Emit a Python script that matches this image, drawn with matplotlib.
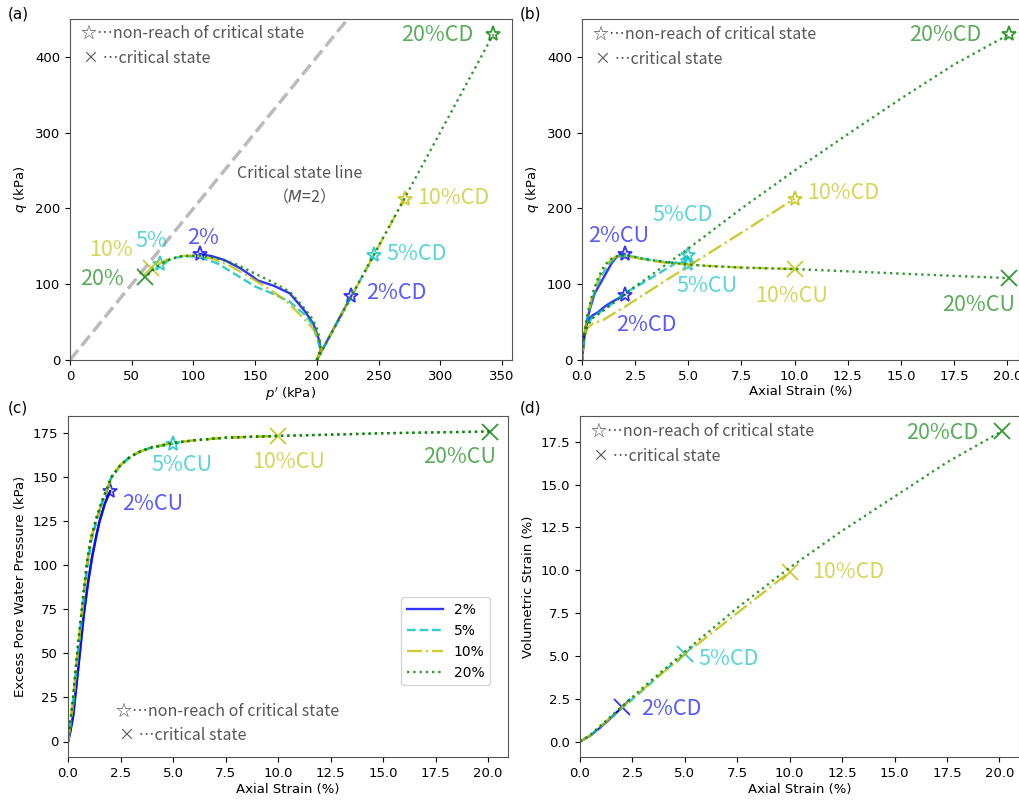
import matplotlib
matplotlib.use('Agg')
import matplotlib.pyplot as plt
from matplotlib.ticker import MultipleLocator

# ---- (a) stress path p'-q, undrained (CU) ----
p_cu2 = [200, 203, 202, 200, 197, 190, 178, 165, 152, 148, 138, 125, 115, 105]
q_cu2 = [0, 12, 25, 35, 48, 65, 88, 98, 105, 110, 121, 132, 137, 140]
p_cu5 = [200, 203, 202, 200, 197, 190, 178, 165, 150, 135, 120, 105, 95, 85, 73]
q_cu5 = [0, 10, 20, 28, 46, 60, 77, 87, 97, 112, 127, 136, 137, 135, 127]
p_cu10 = [200, 203, 202, 199, 195, 185, 175, 160, 145, 130, 115, 100, 88, 78, 66]
q_cu10 = [0, 12, 25, 36, 45, 62, 78, 95, 110, 124, 134, 138, 137, 132, 121]
p_cu20 = [200, 203, 202, 200, 196, 188, 178, 165, 150, 135, 120, 105, 90, 78, 68, 61]
q_cu20 = [0, 15, 30, 42, 55, 72, 90, 102, 114, 126, 134, 138, 137, 131, 120, 109]

# drained (CD) paths in p'-q
p_cd2 = [200, 228]
q_cd2 = [0, 85]
p_cd5 = [200, 246]
q_cd5 = [0, 138]
p_cd10 = [200, 271]
q_cd10 = [0, 213]
p_cd20 = [200, 343]
q_cd20 = [0, 430]

# ---- (b) q vs axial strain ----
ea_cu2 = [0, 0.1, 0.2, 0.4, 0.6, 0.8, 1.0, 1.2, 1.4, 1.6, 1.8, 2.0]
qa_cu2 = [0, 30, 48, 70, 88, 98, 108, 118, 128, 135, 139, 140]
ea_cu5 = [0, 0.1, 0.25, 0.5, 0.75, 1.0, 1.25, 1.5, 1.75, 2.0, 2.5, 3, 4, 5]
qa_cu5 = [0, 30, 55, 82, 100, 115, 126, 133, 137, 138, 136, 133, 129, 127]
ea_cu10 = [0, 0.1, 0.25, 0.5, 0.75, 1.0, 1.25, 1.5, 1.75, 2.0, 2.5, 3, 4, 5, 6, 7.5, 10]
qa_cu10 = [0, 32, 58, 86, 105, 119, 129, 135, 137, 137, 135, 132, 128, 126, 124, 122, 120]
ea_cu20 = [0, 0.1, 0.25, 0.5, 0.75, 1.0, 1.25, 1.5, 1.75, 2.0, 2.5, 3, 4, 5, 6, 7.5,
           10, 12.5, 15, 17.5, 20.1]
qa_cu20 = [0, 35, 60, 88, 108, 122, 131, 136, 138, 138, 136, 133, 129, 126, 124, 122,
           120, 117, 114, 111, 108]

ea_cd2 = [0, 0.1, 0.2, 0.35, 0.5, 0.75, 1.0, 1.25, 1.5, 1.75, 2.0]
qa_cd2 = [0, 30, 45, 55, 59, 63, 69, 74, 78, 82, 86]
ea_cd5 = [0, 0.1, 0.25, 0.5, 1, 1.5, 2, 3, 4, 5]
qa_cd5 = [0, 30, 47, 57, 66, 76, 88, 104, 121, 138]
ea_cd10 = [0, 0.1, 0.25, 0.5, 1, 2, 3, 5, 7.5, 10]
qa_cd10 = [0, 28, 42, 48, 53, 70, 88, 124, 168, 213]
ea_cd20 = [0, 0.1, 0.25, 0.5, 1, 2, 3, 5, 7.5, 10, 12.5, 15, 17.5, 20.1]
qa_cd20 = [0, 30, 45, 55, 65, 87, 107, 147, 200, 250, 298, 345, 390, 430]

# ---- (c) excess pore water pressure (CU) ----
eu_cu2 = [0, 0.1, 0.25, 0.4, 0.56, 0.75, 0.95, 1.15, 1.35, 1.5, 1.75, 2.0]
u_cu2 = [0, 5, 15, 32, 50, 72, 90, 105, 117, 125, 135, 142]
eu_cu5 = [0, 0.1, 0.25, 0.4, 0.6, 0.9, 1.1, 1.35, 1.6, 1.8, 2.06, 2.5, 3, 3.5, 4, 5]
u_cu5 = [0, 8, 22, 42, 65, 98, 114, 125, 135, 141, 150, 157, 162, 165, 167, 169]
eu_cu10 = [0, 0.1, 0.25, 0.4, 0.6, 0.9, 1.1, 1.35, 1.6, 1.8, 2.06, 2.5, 3, 3.5, 4, 5,
           6, 7.5, 10]
u_cu10 = [0, 9, 24, 44, 67, 100, 115, 126, 135, 141, 150, 157, 162, 165, 167, 169.5,
          171, 172.5, 173.5]
eu_cu20 = [0, 0.1, 0.25, 0.4, 0.6, 0.9, 1.1, 1.35, 1.6, 1.8, 2.06, 2.5, 3, 3.5, 4, 5,
           6, 7.5, 10, 12.5, 15, 17.5, 20.1]
u_cu20 = [0, 10, 26, 46, 69, 102, 116, 127, 136, 142, 150, 157, 162, 165, 167, 169.5,
          171, 172.5, 173.5, 174.2, 175, 175.5, 176]

# ---- (d) volumetric strain (CD) ----
ev_ea2 = [0, 0.5, 1, 1.5, 2]
ev_cd2 = [0, 0.35, 0.85, 1.4, 2.0]
ev_ea5 = [0, 0.5, 1, 2, 3, 4, 5]
ev_cd5 = [0, 0.35, 0.9, 1.95, 3.0, 4.1, 5.1]
ev_ea10 = [0, 0.5, 1, 2, 3, 5, 7.5, 10]
ev_cd10 = [0, 0.35, 0.9, 2.0, 3.05, 5.1, 7.5, 9.9]
ev_ea20 = [0, 0.5, 1, 2, 3, 5, 7.5, 10, 12.5, 15, 17.5, 20.1]
ev_cd20 = [0, 0.4, 0.95, 2.05, 3.15, 5.25, 7.8, 10.15, 12.3, 14.3, 16.3, 18.1]

levels = ['2%', '5%', '10%', '20%']
colors = ['b', 'c', 'y', 'g']
styles = ['-', '--', '-.', ':']
cu_end = ['*', '*', 'x', 'x']  # CU: stars for 2%, 5%; crosses for 10%, 20%

JP = ['Noto Sans CJK JP', 'DejaVu Sans']
TXT = 15.5
LW = 1.7
ALPHA_L = 0.8
ALPHA_T = 0.65


def draw(ax, x, y, i, marker):
    ax.plot(x, y, color=colors[i], ls=styles[i], lw=LW, alpha=ALPHA_L)
    ax.plot(x[-1], y[-1], marker=marker, ls='none', ms=11 if marker == '*' else 12,
            mfc='none', mec=colors[i], mew=1.3, alpha=ALPHA_L)


def label(ax, x, y, s, i, ha='center'):
    ax.text(x, y, s, color=colors[i], alpha=ALPHA_T, fontsize=TXT, family=JP,
            ha=ha, va='center')


def notes(ax, x0, y0, dy):
    ax.text(x0, y0, '☆…non-reach of critical state', transform=ax.transAxes,
            fontsize=11.5, color='#555555', family=JP, va='center')
    ax.text(x0 + 0.005, y0 - dy, '× …critical state', transform=ax.transAxes,
            fontsize=11.5, color='#555555', family=JP, va='center')


fig = plt.figure(figsize=(10.2, 8), dpi=100)
ax_a = fig.add_axes([0.0686, 0.55, 0.4333, 0.42625])
ax_b = fig.add_axes([0.5706, 0.55, 0.4284, 0.42625])
ax_c = fig.add_axes([0.0667, 0.05375, 0.4314, 0.42625])
ax_d = fig.add_axes([0.5686, 0.05375, 0.4304, 0.42625])

# (a)
ax_a.plot([0, 230], [0, 460], color='#bbbbbb', ls='--', lw=2.5)
cu_p = [p_cu2, p_cu5, p_cu10, p_cu20]
cu_q = [q_cu2, q_cu5, q_cu10, q_cu20]
cd_p = [p_cd2, p_cd5, p_cd10, p_cd20]
cd_q = [q_cd2, q_cd5, q_cd10, q_cd20]
for i in range(4):
    draw(ax_a, cu_p[i], cu_q[i], i, cu_end[i])
    draw(ax_a, cd_p[i], cd_q[i], i, '*')
label(ax_a, 327, 429, '20%CD', 3, ha='right')
label(ax_a, 281, 214, '10%CD', 2, ha='left')
label(ax_a, 256, 140, '5%CD', 1, ha='left')
label(ax_a, 240, 88, '2%CD', 0, ha='left')
label(ax_a, 108, 161, '2%', 0)
label(ax_a, 66, 157, '5%', 1)
label(ax_a, 33, 145, '10%', 2)
label(ax_a, 26, 107, '20%', 3)
ax_a.text(186, 230, 'Critical state line\n（$M$=2）', ha='center', va='center',
          fontsize=11.5, color='#555555', family=JP, linespacing=1.3)
ax_a.set_xlim(0, 358)
ax_a.set_ylim(0, 450)
ax_a.yaxis.set_major_locator(MultipleLocator(100))
ax_a.set_xlabel("$p'$ (kPa)", fontsize=9.5, labelpad=2)
ax_a.set_ylabel('$q$ (kPa)', fontsize=9.5)
notes(ax_a, 0.025, 0.957, 0.073)

# (b)
cu_e = [ea_cu2, ea_cu5, ea_cu10, ea_cu20]
cu_qa = [qa_cu2, qa_cu5, qa_cu10, qa_cu20]
cd_e = [ea_cd2, ea_cd5, ea_cd10, ea_cd20]
cd_qa = [qa_cd2, qa_cd5, qa_cd10, qa_cd20]
for i in range(4):
    draw(ax_b, cu_e[i], cu_qa[i], i, cu_end[i])
    draw(ax_b, cd_e[i], cd_qa[i], i, '*')
label(ax_b, 18.8, 429, '20%CD', 3, ha='right')
label(ax_b, 10.6, 220, '10%CD', 2, ha='left')
label(ax_b, 4.75, 191, '5%CD', 1)
label(ax_b, 1.73, 163, '2%CU', 0)
label(ax_b, 5.9, 97, '5%CU', 1)
label(ax_b, 9.84, 84, '10%CU', 2)
label(ax_b, 18.67, 73, '20%CU', 3)
label(ax_b, 3.03, 46, '2%CD', 0)
ax_b.set_xlim(0, 20.55)
ax_b.set_ylim(0, 450)
ax_b.yaxis.set_major_locator(MultipleLocator(100))
ax_b.set_xlabel('Axial Strain (%)', fontsize=9.5, labelpad=2)
ax_b.set_ylabel('$q$ (kPa)', fontsize=9.5)
notes(ax_b, 0.025, 0.955, 0.073)

# (c)
cu_eu = [eu_cu2, eu_cu5, eu_cu10, eu_cu20]
cu_u = [u_cu2, u_cu5, u_cu10, u_cu20]
for i in range(4):
    ax_c.plot(cu_eu[i], cu_u[i], color=colors[i], ls=styles[i], lw=LW,
              alpha=ALPHA_L, label=levels[i])
    draw(ax_c, cu_eu[i], cu_u[i], i, cu_end[i])
label(ax_c, 5.41, 157, '5%CU', 1)
label(ax_c, 10.5, 158.5, '10%CU', 2)
label(ax_c, 18.63, 161.5, '20%CU', 3)
label(ax_c, 2.56, 135, '2%CU', 0, ha='left')
ax_c.legend(loc='lower right', bbox_to_anchor=(0.975, 0.19), fontsize=10,
            handlelength=2.6)
ax_c.set_xlim(0, 20.95)
ax_c.set_ylim(-8.8, 184.8)
ax_c.set_xlabel('Axial Strain (%)', fontsize=9.5, labelpad=2)
ax_c.set_ylabel('Excess Pore Water Pressure (kPa)', fontsize=9.5)
notes(ax_c, 0.11, 0.135, 0.073)

# (d)
cd_ev_e = [ev_ea2, ev_ea5, ev_ea10, ev_ea20]
cd_ev = [ev_cd2, ev_cd5, ev_cd10, ev_cd20]
for i in range(4):
    draw(ax_d, cd_ev_e[i], cd_ev[i], i, 'x')
label(ax_d, 19.0, 18.03, '20%CD', 3, ha='right')
label(ax_d, 11.05, 9.9, '10%CD', 2, ha='left')
label(ax_d, 5.67, 4.84, '5%CD', 1, ha='left')
label(ax_d, 2.91, 1.88, '2%CD', 0, ha='left')
ax_d.set_xlim(0, 20.93)
ax_d.set_ylim(-0.9, 19.0)
ax_d.set_xlabel('Axial Strain (%)', fontsize=9.5, labelpad=2)
ax_d.set_ylabel('Volumetric Strain (%)', fontsize=9.5)
notes(ax_d, 0.025, 0.955, 0.075)

for ax in (ax_a, ax_b, ax_c, ax_d):
    ax.tick_params(labelsize=9.5)
    for s in ax.spines.values():
        s.set_color('#555555')

fig.text(0.008, 0.982, '(a)', fontsize=11, va='center')
fig.text(0.51, 0.982, '(b)', fontsize=11, va='center')
fig.text(0.008, 0.49, '(c)', fontsize=11, va='center')
fig.text(0.51, 0.49, '(d)', fontsize=11, va='center')

plt.savefig('out.png', dpi=100)
plt.close()
